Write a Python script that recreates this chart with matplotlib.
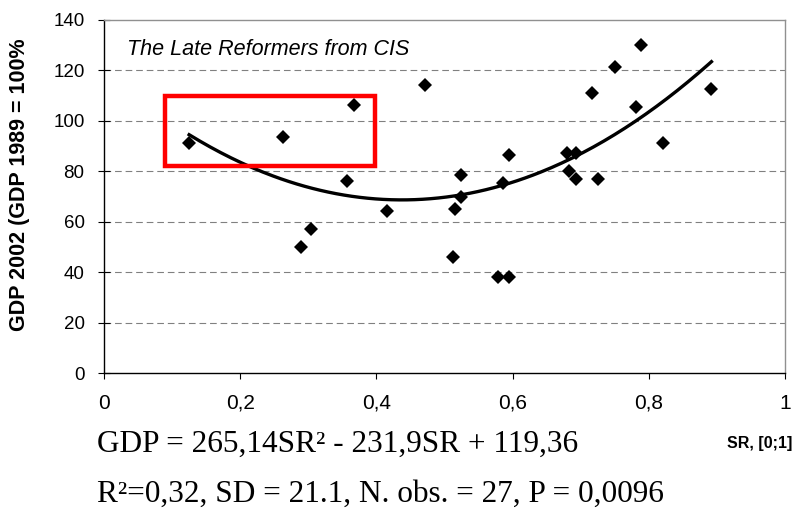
import numpy as np
import matplotlib
matplotlib.use("Agg")
import matplotlib.pyplot as plt
from matplotlib.patches import Rectangle

# data
sr = [0.125, 0.263, 0.367, 0.472, 0.357, 0.416, 0.304, 0.290,
      0.524, 0.524, 0.516, 0.513, 0.578, 0.595, 0.595, 0.586,
      0.680, 0.693, 0.683, 0.693, 0.725, 0.716, 0.751, 0.789,
      0.781, 0.821, 0.892]
gdp = [91.1, 93.5, 106.2, 114.1, 76.0, 64.3, 57.1, 49.9,
       78.4, 69.9, 64.9, 46.0, 37.9, 37.9, 86.5, 75.2,
       87.4, 87.4, 80.3, 76.8, 76.8, 111.2, 121.4, 130.1,
       105.5, 91.2, 112.7]
# quadratic trend as printed on the chart
trend_coef = [265.14, -231.9, 119.36]
# highlighted box (x0, x1, y0, y1)
box = [0.09, 0.398, 82.0, 110.0]

x_ticks = [0, 0.2, 0.4, 0.6, 0.8, 1.0]
x_labels = ["0", "0,2", "0,4", "0,6", "0,8", "1"]
y_ticks = [0, 20, 40, 60, 80, 100, 120, 140]

plt.rcParams['font.family'] = ['Liberation Sans', 'DejaVu Sans']

fig = plt.figure(figsize=(7.99, 5.08), dpi=100)
ax = fig.add_axes([104 / 799, 1 - 373 / 508, (785 - 104) / 799, (373 - 20) / 508])

# dashed grid
for yv in y_ticks[1:-1]:
    ax.axhline(yv, color="#808080", lw=0.8, dashes=(6, 3.5), zorder=1)

# trend line over the data range
tx = np.linspace(min(sr), max(sr), 200)
ax.plot(tx, np.polyval(trend_coef, tx), color="black", lw=2.4, zorder=3)

ax.plot(sr, gdp, linestyle="none", marker="D", ms=7.3, mew=0,
        color="black", zorder=4)

ax.add_patch(Rectangle((box[0], box[2]), box[1] - box[0], box[3] - box[2],
                       fill=False, edgecolor="#ff0000", lw=3.2, zorder=5))

ax.set_xlim(0, 1)
ax.set_ylim(0, 140)
ax.set_xticks(x_ticks)
ax.set_xticklabels(x_labels)
ax.set_yticks(y_ticks)
ax.tick_params(axis="x", labelsize=15, length=4.5, pad=10.5, direction="out")
ax.tick_params(axis="y", labelsize=13.5, length=9, pad=9.5, direction="inout")

for s in ["left", "bottom"]:
    ax.spines[s].set_color("black")
    ax.spines[s].set_linewidth(1.0)
for s in ["top", "right"]:
    ax.spines[s].set_color("#909090")
    ax.spines[s].set_linewidth(1.0)

ax.text(0.034, 126.1, "The Late Reformers from CIS", fontsize=15.5,
        style="italic", va="baseline", ha="left")

fig.text(20 / 799, 1 - 185 / 508, "GDP 2002 (GDP 1989 = 100%", rotation=90,
         fontsize=15.5, fontweight="bold", ha="center", va="center")

fig.text(792 / 799, 1 - 448 / 508, "SR, [0;1]", fontsize=11.5,
         fontweight="bold", ha="right", va="baseline")

serif = ['Liberation Serif', 'DejaVu Serif']
fig.text(97 / 799, 1 - 452 / 508,
         "GDP = 265,14SR\u00b2 - 231,9SR + 119,36",
         fontsize=22.5, family=serif, ha="left", va="baseline")
fig.text(97 / 799, 1 - 502 / 508,
         "R\u00b2=0,32, SD = 21.1, N. obs. = 27, P = 0,0096",
         fontsize=22.5, family=serif, ha="left", va="baseline")

fig.savefig("out.png", dpi=100)
